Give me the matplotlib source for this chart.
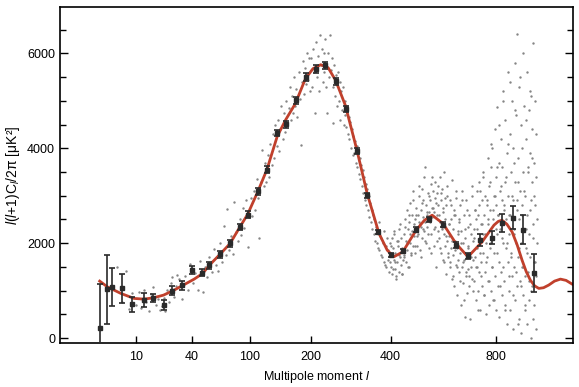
import numpy as np
import matplotlib
matplotlib.use("Agg")
import matplotlib.pyplot as plt
from matplotlib.ticker import MultipleLocator, NullLocator

plt.rcParams['font.family'] = ['Liberation Sans', 'DejaVu Sans']
plt.rcParams['mathtext.fontset'] = 'custom'
plt.rcParams['mathtext.rm'] = 'Liberation Sans'
plt.rcParams['mathtext.it'] = 'Liberation Sans:italic'
plt.rcParams['mathtext.default'] = 'regular'

# best-fit model curve
model_l = [2, 3.1, 5.8, 9.5, 13, 17, 22, 28, 34, 42, 49, 55, 65, 76, 87, 97, 111, 124, 140, 154,
           171, 190, 205, 221, 237, 254, 277, 306, 333, 366, 390, 410, 438, 482, 510, 538, 578,
           628, 677, 737, 790, 810, 827, 850, 875, 900, 924, 945, 966, 988, 1010, 1035, 1063,
           1095, 1128, 1160, 1195]
model_d = [1200, 1080, 941, 835, 820, 848, 905, 1010, 1116, 1242, 1362, 1537, 1761, 1993, 2330,
           2604, 3094, 3551, 4250, 4600, 4940, 5467, 5680, 5762, 5700, 5431, 4905, 3957, 3046,
           2204, 1852, 1712, 1817, 2274, 2480, 2590, 2414, 1993, 1712, 2028, 2380, 2460, 2484,
           2400, 2238, 1960, 1642, 1400, 1221, 1100, 1046, 1060, 1116, 1200, 1242, 1215, 1137]

# binned band powers with errors
bin_l = [2, 3, 4, 6, 9, 13, 17, 22, 27, 33, 40, 48, 55, 65, 76, 87, 97, 111, 124, 140, 154,
         172, 191, 211, 231, 254, 279, 306, 333, 364, 400, 438, 482, 528, 578, 628, 677, 730,
         779, 827, 880, 929, 983]
bin_d = [204, 1025, 1080, 1046, 709, 800, 835, 695, 996, 1116, 1431, 1375, 1537, 1761, 1993,
         2343, 2604, 3094, 3551, 4321, 4505, 5010, 5500, 5677, 5747, 5410, 4835, 3936, 3010,
         2238, 1747, 1831, 2288, 2499, 2393, 1958, 1726, 2063, 2112, 2427, 2541, 2288, 1375]
bin_err = [933, 735, 400, 300, 155, 155, 85, 98, 95, 95, 80, 75, 75, 70, 70, 70, 70, 70, 70, 70,
           75, 80, 80, 80, 80, 75, 65, 60, 55, 50, 45, 45, 45, 50, 55, 60, 70, 125, 140, 190,
           245, 300, 405]

# unbinned multipoles (grey cloud)
raw_l_lo = list(range(5, 31))
raw_d_lo = [1500, 760, 1420, 620, 950, 700, 980, 640, 1010, 760, 560, 930, 1080, 700, 820, 600,
            680, 840, 560, 1020, 760, 1150, 1280, 860, 1090, 1320]
raw_l_mid = list(range(31, 100, 2))
raw_d_mid = [1250, 820, 1300, 1020, 1560, 1150, 1380, 1020, 1620, 960, 1500, 1290, 1700, 1400,
             1880, 1530, 1420, 2010, 1600, 2360, 1750, 2710, 1860, 2150, 1780, 2870, 2240, 2050,
             2500, 2180, 2750, 2320, 2900, 1920, 2560]
raw_l_pk = list(range(101, 200, 2))
raw_d_pk = [2950, 2580, 3100, 2700, 3350, 2950, 2100, 3300, 3960, 3200, 3700, 3300, 3850, 3400,
            4100, 3650, 4300, 3800, 4500, 4050, 4600, 3950, 4400, 4900, 4200, 4750, 4350, 5000,
            4500, 4850, 5300, 4600, 5100, 4750, 5500, 4900, 5250, 4650, 5600, 5050, 4060, 5400,
            5850, 5150, 5700, 5350, 6000, 5450, 5900, 5200]
raw_l_fall = list(range(201, 400, 2))
raw_d_fall = [5900, 5300, 6100, 5600, 4750, 6250, 5500, 5950, 5200, 6380, 5750, 6100, 5400, 6000,
              5600, 6300, 5300, 4740, 6000, 5500, 6380, 5650, 5900, 4530, 5300, 5750, 5100, 5550,
              4900, 5600, 5000, 5400, 4600, 5200, 4800, 5300, 4500, 5000, 4700, 4450, 4900, 4300,
              4650, 4200, 4550, 4000, 4400, 3850, 4250, 3900, 4150, 3700, 4050, 3600, 3950, 3450,
              3800, 3350, 3650, 3200, 3550, 3050, 3400, 2900, 3250, 2800, 3150, 2700, 3000, 2550,
              2850, 2450, 2700, 2300, 2600, 2200, 2500, 2050, 2350, 2000, 2300, 1900, 2450, 1850,
              2150, 1750, 2100, 1700, 2000, 1600, 2250, 1550, 1950, 1500, 2100, 1650, 1850, 1400,
              2000, 1600]
raw_l_2nd = list(range(401, 700, 2))
raw_d_2nd = [1500, 2100, 1350, 1900, 1650, 2250, 1450, 1800, 1300, 2050, 1600, 1950, 1400, 2300,
             1700, 1550, 2100, 1350, 1900, 1650,
             2200, 1750, 2500, 1600, 2050, 2700, 1850, 2300, 1500, 2450, 2000, 2850, 1750, 2250,
             2600, 1950, 3100, 2150, 1800, 2500,
             2300, 2750, 1950, 2600, 2200, 3000, 2450, 1850, 2700, 2350, 3150, 2100, 2550, 2900,
             2250, 3600, 2450, 2000, 2800, 2600,
             2350, 3050, 2650, 1900, 2900, 2450, 3250, 2200, 2750, 2550, 3100, 1950, 2650, 3300,
             2350, 2850, 1500, 2600, 3050, 2250,
             2800, 2100, 3400, 2450, 1800, 2900, 2300, 3150, 1650, 2650, 2200, 3500, 1950, 2500,
             1350, 2800, 2050, 3000, 1700, 2400,
             2150, 2900, 1500, 2500, 1900, 3330, 1250, 2300, 1750, 2700, 1100, 2050, 2600, 1550,
             2950, 1900, 900, 2250, 1650, 2450,
             1400, 2800, 1800, 700, 2250, 1500, 3100, 1150, 2000, 2600, 1650, 450, 2100, 1300,
             2900, 1750, 950, 2350, 1450, 1950,
             2600, 1100, 1800, 400, 2200, 1500, 3000, 1250, 2050, 1650]
raw_l_hi = list(range(701, 1000, 2))
raw_d_hi = [2300, 1200, 2700, 1700, 800, 2500, 1500, 3100, 1900, 1000, 2600, 1400, 3300, 2100,
            600, 2400, 1600, 2900, 1100, 2200,
            1800, 3500, 900, 2600, 1400, 3000, 2000, 500, 2800, 1700, 3800, 1200, 2400, 700,
            3200, 1900, 2700, 1000, 3600, 2100,
            1500, 4000, 2500, 800, 3000, 1800, 4400, 1300, 2800, 600, 3400, 2200, 4870, 1100,
            2600, 3700, 1600, 450, 3100, 2300,
            4200, 1400, 2900, 900, 3600, 2000, 5200, 1200, 2700, 3300, 700, 4600, 1900, 2500,
            300, 3900, 1600, 3000, 5600, 2200,
            1000, 4300, 2600, 600, 3500, 1800, 5000, 1300, 2900, 200, 4000, 2300, 1500, 5800,
            800, 3300, 2000, 4700, 1100, 2700,
            6400, 1700, 3800, 400, 2500, 5300, 1200, 3100, 2000, 4500, 100, 2800, 1500, 6000,
            3500, 900, 2300, 4900, 1300, 3000,
            600, 4200, 1900, 5600, 2600, 300, 3600, 1400, 4800, 2200, 800, 3900, 1700, 5100,
            2900, 0, 3300, 1100, 4400, 2400,
            6210, 1600, 3700, 700, 2800, 5000, 1300, 3400, 200, 2000]
raw_l_even = list(range(402, 1000, 4))
raw_d_even = [1950, 1450, 2200, 1600, 1250, 2050, 1750, 2400, 1350, 1850,
              1700, 2350, 2000, 1500, 2600, 2200, 1800, 2900, 2400, 1950,
              2600, 2150, 3200, 2400, 1700, 2850, 2300, 3400, 2050, 2650,
              2200, 3000, 2500, 1800, 3400, 2750, 2300, 2950, 2050, 3200,
              2600, 1900, 3050, 2350, 2750, 1600, 2950, 2150, 3200, 1800,
              2400, 1600, 2800, 2050, 1300, 2600, 1850, 3100, 1500, 2200,
              2500, 1200, 2000, 2900, 1600, 800, 2300, 1400, 2700, 1900,
              1300, 2400, 1700, 3200, 1000, 2100, 2700, 1500, 2300, 600,
              2800, 1800, 3100, 1300, 2400, 3400, 900, 2200, 1600, 2900,
              2500, 1200, 3300, 2000, 4100, 1500, 2700, 800, 3000, 2300,
              3600, 1800, 2600, 4500, 1100, 3200, 2100, 5000, 1500, 2800,
              600, 3400, 2000, 4100, 1300, 2600, 5400, 1700, 3000, 900,
              3700, 2200, 4800, 1400, 2900, 300, 3300, 1900, 5500, 1100,
              2600, 4000, 1500, 3100, 700, 2300, 4600, 1800, 3500, 1200,
              2700, 5200, 1000, 3800, 2100, 400, 3000, 1600, 4300, 2500]

raw_l = raw_l_lo + raw_l_mid + raw_l_pk + raw_l_fall + raw_l_2nd + raw_l_hi + raw_l_even
raw_d = raw_d_lo + raw_d_mid + raw_d_pk + raw_d_fall + raw_d_2nd + raw_d_hi + raw_d_even

xticks = [10, 40, 100, 200, 400, 800]


def fwd(l):
    l = np.asarray(l, dtype=float)
    return np.sign(l) * np.abs(l) ** 0.4


def inv(u):
    u = np.asarray(u, dtype=float)
    return np.sign(u) * np.abs(u) ** 2.5


fig = plt.figure(figsize=(5.79, 3.87), dpi=100)
ax = fig.add_axes([0.1036, 0.1137, 0.8860, 0.8683])
ax.set_xscale('function', functions=(fwd, inv))

ax.scatter(raw_l, raw_d, s=3, color='#858585', linewidths=0, zorder=1)
ax.plot(model_l, model_d, color='#c0402c', lw=2.0, zorder=2)
ax.errorbar(bin_l, bin_d, yerr=bin_err, fmt='s', color='#2a2a2a', ms=3.2, capsize=2.5,
            elinewidth=1.2, capthick=1.2, zorder=3)

ax.set_xlim(0, 1200)
ax.set_ylim(-105, 6980)
ax.set_xticks(xticks)
ax.set_xticklabels([str(t) for t in xticks])
ax.xaxis.set_minor_locator(NullLocator())
ax.set_yticks([0, 2000, 4000, 6000])
ax.yaxis.set_minor_locator(MultipleLocator(500))
ax.tick_params(axis='both', which='both', direction='in', labelsize=9, width=1.0,
               right=True, top=False)
ax.tick_params(axis='y', which='major', length=6)
ax.tick_params(axis='y', which='minor', length=4.5)
ax.tick_params(axis='x', which='major', length=5, pad=6)
for sp in ax.spines.values():
    sp.set_linewidth(1.2)

ax.set_xlabel(r'Multipole moment $\mathit{l}$', fontsize=9)
ax.set_ylabel(r'$\mathit{l}$($\mathit{l}$+1)C$_{\mathit{l}}$/2π [μK²]', fontsize=10)

fig.savefig('out.png', dpi=100)
